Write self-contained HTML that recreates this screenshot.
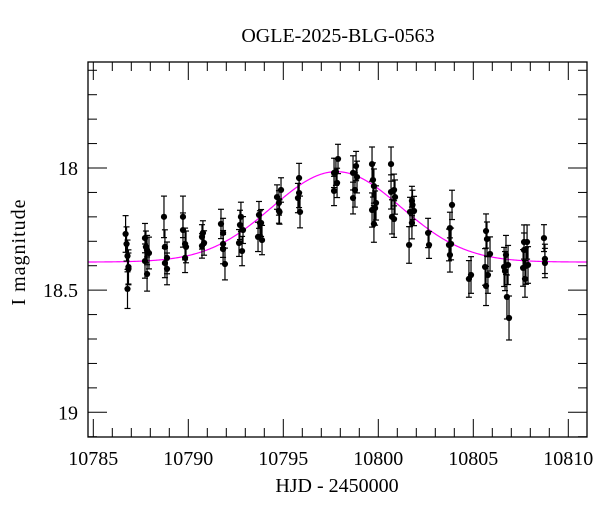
<!DOCTYPE html>
<html><head><meta charset="utf-8"><style>
html,body{margin:0;padding:0;background:#fff;}
svg{display:block;font-family:"Liberation Serif",serif;}
</style></head><body>
<svg id="chart" width="600" height="512" viewBox="0 0 600 512">
<text x="338" y="42" text-anchor="middle" font-size="20">OGLE-2025-BLG-0563</text>
<text x="337" y="492" text-anchor="middle" font-size="20">HJD - 2450000</text>
<text transform="translate(25,252) rotate(-90)" text-anchor="middle" font-size="20" letter-spacing="1">I magnitude</text>
<g id="axes"></g>
<g id="curve"></g>
<g id="points"></g>
<rect x="88" y="62" width="499" height="375" fill="none" stroke="#000" stroke-width="1.3"/>
</svg>
<script>
const xTickLabels = [10785, 10790, 10795, 10800, 10805, 10810];
const yTickLabels = [18, 18.5, 19];
const hjd = [
10786.7,10786.75,10786.8,10786.85,10786.85,10786.8,
10787.72,10787.77,10787.83,10787.72,10787.83,10787.93,
10788.72,10788.77,10788.88,10788.77,10788.88,
10789.72,10789.72,10789.83,10789.83,10789.88,
10790.72,10790.77,10790.72,10790.83,
10791.72,10791.83,10791.83,10791.83,10791.93,
10792.77,10792.72,10792.88,10792.67,10792.83,
10793.72,10793.77,10793.67,10793.88,10793.83,
10794.67,10794.88,10794.77,10794.77,10794.8,
10795.83,10795.77,10795.88,10795.83,
10797.67,10797.67,10797.88,10797.77,10797.83,
10798.67,10798.67,10798.83,10798.88,10798.77,
10799.67,10799.72,10799.77,10799.67,10799.88,10799.77,10799.83,
10800.67,10800.67,10800.83,10800.88,10800.72,10800.83,
10801.77,10801.67,10801.77,10801.88,10801.62,10801.8,
10802.62,10802.67,
10803.88,10803.77,10803.72,10803.83,10803.77,
10804.77,10804.88,
10805.67,10805.72,10805.88,10805.62,10805.77,10805.67,
10806.62,10806.67,10806.72,10806.83,10806.77,10806.88,
10807.67,10807.83,10807.67,10807.77,10807.62,10807.72,10807.88,
10808.72,10808.77,10808.77
];
const imag = [
18.27,18.311,18.36,18.405,18.413,18.495,
18.287,18.323,18.336,18.381,18.434,18.348,
18.2,18.323,18.368,18.389,18.413,
18.2,18.254,18.311,18.368,18.323,
18.282,18.266,18.319,18.307,
18.229,18.266,18.311,18.332,18.393,
18.2,18.233,18.254,18.307,18.34,
18.192,18.225,18.282,18.295,18.225,
18.119,18.09,18.143,18.176,18.18,
18.041,18.123,18.18,18.102,
18.02,18.094,17.963,18.016,18.061,
18.02,18.123,17.992,18.037,18.09,
17.984,18.049,18.074,18.172,18.143,18.229,18.164,
17.984,18.098,18.09,18.119,18.2,18.209,
18.135,18.18,18.225,18.176,18.315,18.151,
18.266,18.315,
18.151,18.246,18.315,18.311,18.356,
18.454,18.438,
18.258,18.291,18.352,18.405,18.438,18.483,
18.405,18.422,18.356,18.397,18.528,18.614,
18.303,18.303,18.336,18.401,18.409,18.454,18.397,
18.287,18.372,18.389
];
const ierr = [
0.075,0.07,0.065,0.07,0.065,0.08,
0.06,0.065,0.06,0.07,0.07,0.065,
0.085,0.07,0.065,0.06,0.065,
0.085,0.07,0.065,0.06,0.065,
0.05,0.05,0.05,0.05,
0.06,0.06,0.055,0.06,0.065,
0.06,0.06,0.055,0.055,0.06,
0.055,0.05,0.06,0.06,0.055,
0.05,0.05,0.05,0.05,0.05,
0.06,0.06,0.065,0.06,
0.06,0.06,0.06,0.055,0.06,
0.07,0.065,0.06,0.065,0.07,
0.07,0.07,0.07,0.07,0.07,0.075,0.07,
0.07,0.07,0.065,0.07,0.07,0.075,
0.06,0.06,0.065,0.06,0.075,0.06,
0.06,0.055,
0.06,0.065,0.065,0.065,0.07,
0.075,0.075,
0.07,0.07,0.07,0.075,0.075,0.08,
0.08,0.08,0.08,0.08,0.09,0.09,
0.07,0.07,0.07,0.075,0.075,0.075,0.075,
0.055,0.06,0.06
];
const modelBase = [18.385];
const modelPeak = [10797.8, 0.37, 3.4];

const L=88,R=587,T=62,B=437;
function xs(d){return 93.3+(d-10785)*19.0;}
function ys(m){return 168+(m-18)*244.3;}
const NS="http://www.w3.org/2000/svg";
function mk(tag,attrs,parent){const e=document.createElementNS(NS,tag);for(const k in attrs)e.setAttribute(k,attrs[k]);parent.appendChild(e);return e;}
const axes=document.getElementById('axes');
for(let d=10785;d<=10811;d++){
  const x=xs(d); if(x<L||x>R)continue;
  const maj=(d%5===0), len=maj?18:9;
  const t1=mk('line',{x1:x,x2:x,y1:B,y2:B-len,stroke:'#000','stroke-width':1},axes);
  
  
  const t2=mk('line',{x1:x,x2:x,y1:T,y2:T+len,stroke:'#000','stroke-width':1},axes);
  
  
}
xTickLabels.forEach(v=>{
  const t=mk('text',{x:xs(v),y:465,'text-anchor':'middle','font-size':20},axes);
  t.textContent=v;
  
  
});
for(let i=0;i<=16;i++){
  const m=17.5+i*0.1; const y=ys(m); if(y<T||y>B)continue;
  const maj=(i%5===0), len=maj?19:9;
  const t1=mk('line',{x1:L,x2:L+len,y1:y,y2:y,stroke:'#000','stroke-width':1},axes);
  
  
  const t2=mk('line',{x1:R,x2:R-len,y1:y,y2:y,stroke:'#000','stroke-width':1},axes);
  
  
}
yTickLabels.forEach(v=>{
  const t=mk('text',{x:78,y:ys(v)+7,'text-anchor':'end','font-size':20},axes);
  t.textContent=v;
  
  
});
let dstr='';
for(let x=L;x<=R;x+=1){
  const d=10785+(x-93.3)/19.0;
  const dt=d-modelPeak[0];
  const m=modelBase[0]-modelPeak[1]*Math.exp(-dt*dt/(2*modelPeak[2]*modelPeak[2]));
  dstr+=(x===L?'M':'L')+x+','+ys(m).toFixed(2);
}
const cv=mk('path',{d:dstr,fill:'none',stroke:'#ff00ff','stroke-width':1.2},document.getElementById('curve'));


const pg=document.getElementById('points');
hjd.forEach((d,i)=>{
  const x=xs(d), y=ys(imag[i]), e=ierr[i]*244.3;
  const g=mk('g',{},pg);
  
  
  mk('line',{x1:x,x2:x,y1:y-e,y2:y+e,stroke:'#000','stroke-width':1.2},g);
  mk('line',{x1:x-3,x2:x+3,y1:y-e,y2:y-e,stroke:'#000','stroke-width':1.2},g);
  mk('line',{x1:x-3,x2:x+3,y1:y+e,y2:y+e,stroke:'#000','stroke-width':1.2},g);
  mk('circle',{cx:x,cy:y,r:3.1,fill:'#000'},g);
});
</script>
</body></html>
